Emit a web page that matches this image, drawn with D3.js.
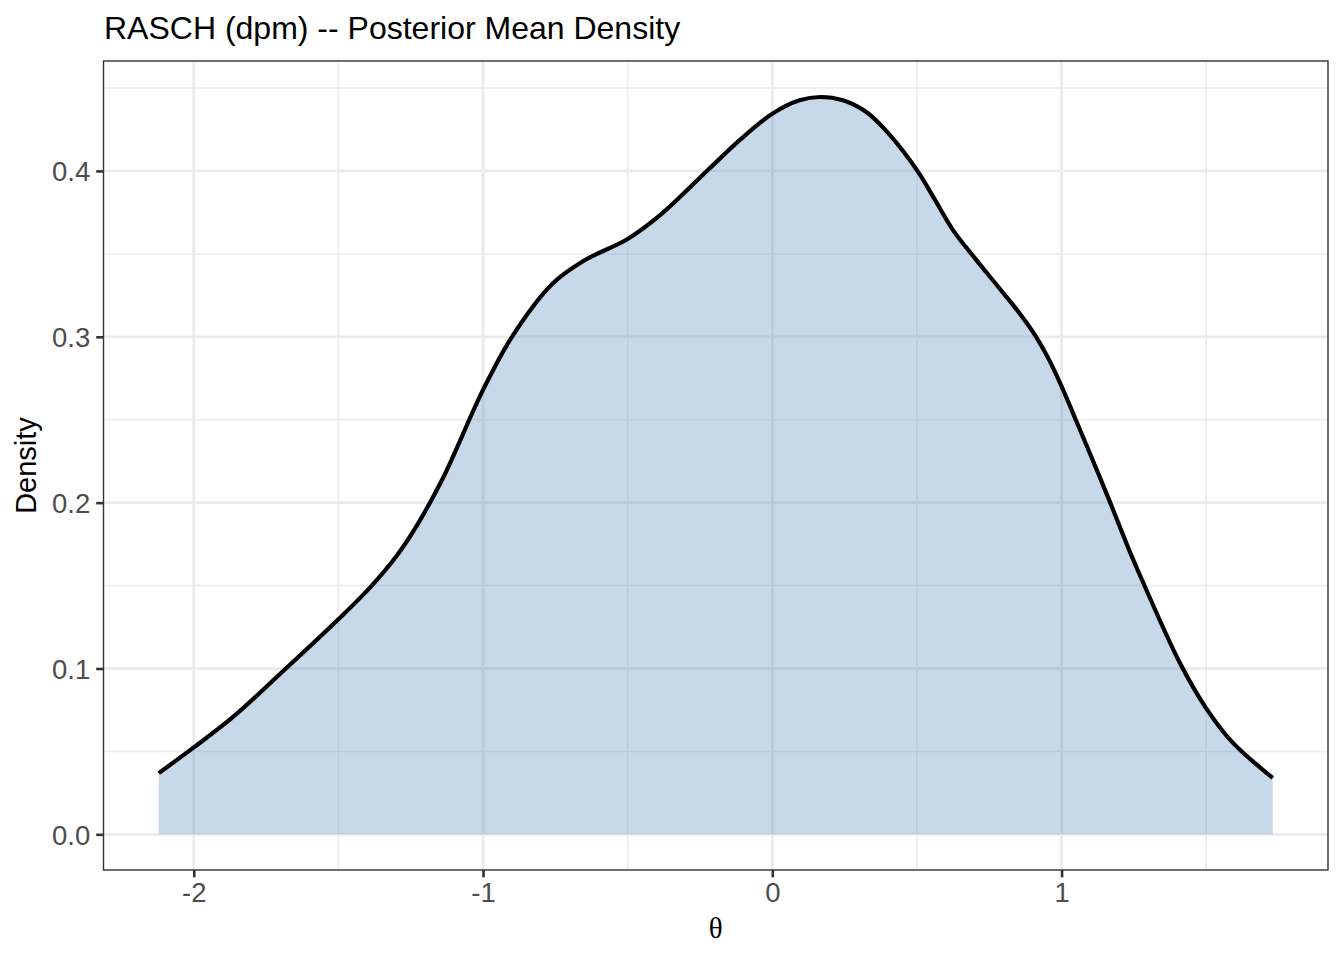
<!DOCTYPE html>
<html>
<head>
<meta charset="utf-8">
<script src="https://cdn.jsdelivr.net/npm/d3@7"></script>
<style>
  body { margin: 0; background: #fff; }
  svg { display: block; }
</style>
</head>
<body>
<svg id="chart" width="1344" height="960"></svg>
<script>
// posterior mean density
var theta = [-2.121, -2.0, -1.862, -1.69, -1.5, -1.391, -1.299, -1.23, -1.138, -1.0,
  -0.9, -0.76, -0.65, -0.5, -0.39, -0.22, -0.11, 0.0, 0.094, 0.166, 0.244,
  0.325, 0.406, 0.5, 0.561, 0.624, 0.705, 0.785, 0.854, 0.911, 0.957, 1.0, 1.049,
  1.107, 1.164, 1.233, 1.28, 1.41, 1.5, 1.59, 1.73];
var density = [0.0369, 0.0524, 0.0711, 0.0986, 0.1297, 0.1488, 0.1679, 0.1859, 0.215, 0.268,
  0.300, 0.332, 0.346, 0.359, 0.373, 0.401, 0.419, 0.4345, 0.4426, 0.4446, 0.4426,
  0.4355, 0.4218, 0.4005, 0.383, 0.3645, 0.3464, 0.3293, 0.3143, 0.3002, 0.2861, 0.2701, 0.250,
  0.2259, 0.2018, 0.1717, 0.1526, 0.103, 0.076, 0.0556, 0.034];

var xMajor = [-2, -1, 0, 1];
var xMinor = [-1.5, -0.5, 0.5, 1.5];
var yMajor = [0, 0.1, 0.2, 0.3, 0.4];
var yMinor = [0.05, 0.15, 0.25, 0.35, 0.45];

var titleText = "RASCH (dpm) -- Posterior Mean Density";
var xTitle = "\u03b8";
var yTitle = "Density";

var panel = { left: 103.5, right: 1328, top: 61, bottom: 870 };

var x = d3.scaleLinear().domain([-2.312, 1.921]).range([panel.left, panel.right]);
var y = d3.scaleLinear().domain([-0.0215, 0.4663]).range([panel.bottom, panel.top]);

var svg = d3.select("#chart");
var pts = theta.map(function (t, i) { return { t: t, d: density[i] }; });

// grid
var grid = svg.append("g");
grid.selectAll(".xminor").data(xMinor).join("line")
  .attr("x1", d => x(d)).attr("x2", d => x(d))
  .attr("y1", panel.top).attr("y2", panel.bottom)
  .attr("stroke", "#ebebeb").attr("stroke-width", 1.5);
grid.selectAll(".yminor").data(yMinor).join("line")
  .attr("y1", d => y(d)).attr("y2", d => y(d))
  .attr("x1", panel.left).attr("x2", panel.right)
  .attr("stroke", "#ebebeb").attr("stroke-width", 1.5);
grid.selectAll(".xmajor").data(xMajor).join("line")
  .attr("x1", d => x(d)).attr("x2", d => x(d))
  .attr("y1", panel.top).attr("y2", panel.bottom)
  .attr("stroke", "#ebebeb").attr("stroke-width", 2.8);
grid.selectAll(".ymajor").data(yMajor).join("line")
  .attr("y1", d => y(d)).attr("y2", d => y(d))
  .attr("x1", panel.left).attr("x2", panel.right)
  .attr("stroke", "#ebebeb").attr("stroke-width", 2.8);

// area + line
var area = d3.area().curve(d3.curveCatmullRom.alpha(0.5))
  .x(d => x(d.t)).y0(y(0)).y1(d => y(d.d));
var line = d3.line().curve(d3.curveCatmullRom.alpha(0.5))
  .x(d => x(d.t)).y(d => y(d.d));

svg.append("path").datum(pts).attr("d", area)
  .attr("fill", "steelblue").attr("fill-opacity", 0.3);
svg.append("path").datum(pts).attr("d", line)
  .attr("fill", "none").attr("stroke", "#000").attr("stroke-width", 4.2);

// border
svg.append("rect")
  .attr("x", panel.left).attr("y", panel.top)
  .attr("width", panel.right - panel.left).attr("height", panel.bottom - panel.top)
  .attr("fill", "none").attr("stroke", "#333333").attr("stroke-width", 1.4);

// axes
var xAxis = svg.append("g").attr("transform", "translate(0," + panel.bottom + ")")
  .call(d3.axisBottom(x).tickValues(xMajor).tickSize(7.3).tickPadding(5)
    .tickFormat(d => d3.format("d")(d).replace("\u2212", "-")));
var yAxis = svg.append("g").attr("transform", "translate(" + panel.left + ",0)")
  .call(d3.axisLeft(y).tickValues(yMajor).tickSize(7.3).tickPadding(6)
    .tickFormat(d3.format(".1f")));

[xAxis, yAxis].forEach(function (g) {
  g.select(".domain").remove();
  g.selectAll(".tick line").attr("stroke", "#333333").attr("stroke-width", 2.6);
  g.selectAll(".tick text")
    .attr("fill", "#4d4d4d")
    .style("font-family", "'Liberation Sans', Arial, sans-serif")
    .style("font-size", "27.5px");
});
yAxis.selectAll(".tick text").attr("dy", "0.36em");

// titles
svg.append("text").attr("x", 104).attr("y", 39)
  .style("font-family", "'Liberation Sans', Arial, sans-serif")
  .style("font-size", "32px").attr("fill", "#000")
  .text(titleText);

svg.append("text")
  .attr("transform", "translate(36," + ((panel.top + panel.bottom) / 2) + ") rotate(-90)")
  .attr("text-anchor", "middle")
  .style("font-family", "'Liberation Sans', Arial, sans-serif")
  .style("font-size", "29px").attr("fill", "#000")
  .text(yTitle);

svg.append("text")
  .attr("x", (panel.left + panel.right) / 2).attr("y", 938)
  .attr("text-anchor", "middle")
  .style("font-family", "'Liberation Serif', 'DejaVu Serif', serif")
  .style("font-size", "29px").attr("fill", "#000")
  .text(xTitle);
</script>
</body>
</html>
